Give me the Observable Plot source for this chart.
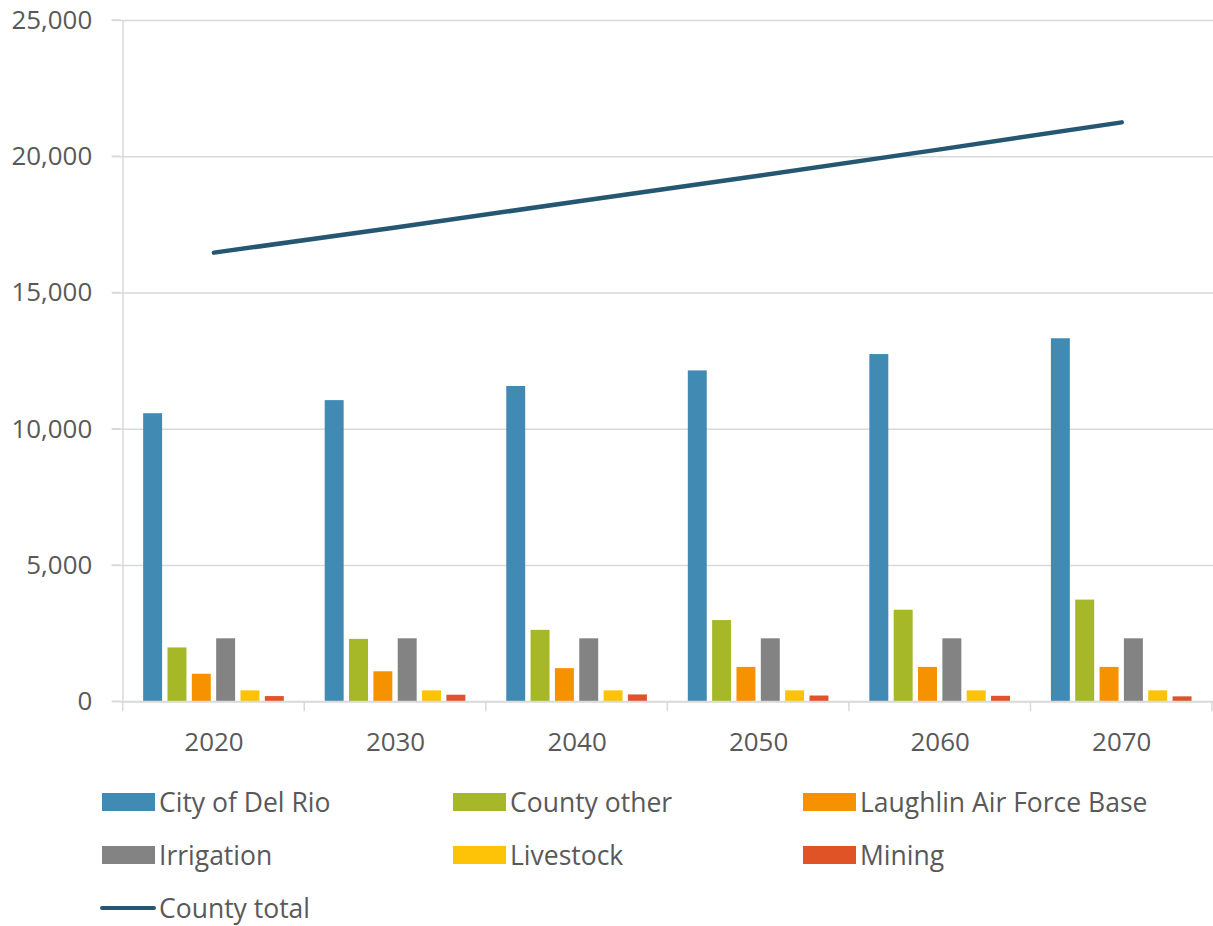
<!DOCTYPE html>
<html>
<head>
<meta charset="utf-8">
<script src="https://cdn.jsdelivr.net/npm/d3@7"></script>
<script src="https://cdn.jsdelivr.net/npm/@observablehq/plot@0.6"></script>
<style>
  html, body { margin: 0; padding: 0; background: #fff; overflow: hidden; }
  body { font-family: "Open Sans", "Noto Sans", sans-serif; color: #595959; width: 1213px; height: 926px; }
  #chart svg { display: block; }
  #legend { position: relative; height: 156px; }
  .item { position: absolute; display: flex; align-items: center; font-size: 26.5px; line-height: 36px; color: #595959; white-space: nowrap; }
  .sw { display: inline-block; width: 53px; height: 18px; margin-right: 4px; }
  .ln { display: inline-block; width: 56px; height: 4.5px; border-radius: 2px; margin-right: 3px; }
</style>
</head>
<body>
<div id="chart"></div>
<div id="legend"></div>
<script>
const years = ["2020", "2030", "2040", "2050", "2060", "2070"];
const seriesNames = ["City of Del Rio", "County other", "Laughlin Air Force Base", "Irrigation", "Livestock", "Mining"];
const cityOfDelRio = [10570, 11050, 11570, 12140, 12740, 13320];
const countyOther = [1975, 2290, 2620, 2980, 3360, 3730];
const laughlinAFB = [1010, 1100, 1215, 1260, 1260, 1260];
const irrigation = [2310, 2310, 2310, 2310, 2310, 2310];
const livestock = [400, 400, 400, 400, 400, 400];
const mining = [190, 240, 250, 210, 200, 180];
const countyTotal = [16480, 17400, 18360, 19300, 20270, 21260];
const lineName = "County total";
const yTicks = [0, 5000, 10000, 15000, 20000, 25000];

const colors = ["#418ab3", "#a6b727", "#f69200", "#838383", "#fec306", "#df5327"];
const lineColor = "#265772";
const seriesValues = [cityOfDelRio, countyOther, laughlinAFB, irrigation, livestock, mining];

const barRows = seriesValues.map((vals, i) => years.map((y, j) => ({year: y, series: seriesNames[i], value: vals[j]})));
const lineRows = years.map((y, j) => ({year: y, value: countyTotal[j]}));

const W = 1216, mL = 121, mR = 0;
const bandW = (W - mL - mR) / years.length;
const groupPad = 20.5, step = 24.4, barW = 19.5;

const barMarks = barRows.map((rows, i) => Plot.barY(rows, {
  x: "year", y: "value", fill: colors[i],
  insetLeft: groupPad + step * i,
  insetRight: bandW - (groupPad + step * i + barW)
}));

const plot = Plot.plot({
  width: W,
  height: 770,
  marginTop: 20,
  marginBottom: 67,
  marginLeft: mL,
  marginRight: mR,
  style: {fontFamily: "'Open Sans', 'Noto Sans', sans-serif", fontSize: "26px", color: "#595959", background: "white"},
  x: {type: "band", domain: years, padding: 0, label: null},
  y: {domain: [0, 25000], ticks: yTicks, label: null},
  marks: [
    Plot.gridY(yTicks.filter(d => d > 0), {stroke: "#d9d9d9", strokeOpacity: 1, strokeWidth: 1.5}),
    Plot.axisY({ticks: yTicks, tickFormat: d3.format(","), tickSize: 9, tickPadding: 20, stroke: "#d9d9d9", strokeWidth: 1.5, fill: "#595959", fontSize: 26}),
    Plot.ruleX([0], {x: () => years[0], stroke: "#d9d9d9", strokeWidth: 1.5, y1: 0, y2: 25000, dx: -bandW / 2}),
    ...barMarks,
    Plot.ruleY([0], {stroke: "#d9d9d9", strokeWidth: 2}),
    Plot.axisX({tickSize: 0, tickPadding: 31, fill: "#595959", fontSize: 26}),
    Plot.line(lineRows, {x: "year", y: "value", stroke: lineColor, strokeWidth: 4.5, strokeLinecap: "round"})
  ]
});
document.getElementById("chart").appendChild(plot);

// category boundary ticks on the x axis (drawn with the x scale's band edges)
const xs = plot.scale("x");
const ys = plot.scale("y");
const svg = d3.select(plot);
const edges = years.map(y => xs.apply(y)).concat([xs.apply(years[years.length - 1]) + xs.bandwidth]);
svg.append("g").selectAll("line").data(edges).join("line")
  .attr("x1", d => d).attr("x2", d => d)
  .attr("y1", ys.apply(0)).attr("y2", ys.apply(0) + 10)
  .attr("stroke", "#d9d9d9").attr("stroke-width", 1.5);
// left tick stubs extending grid lines
svg.append("g").selectAll("line").data(yTicks).join("line")
  .attr("x1", mL - 9).attr("x2", mL)
  .attr("y1", d => ys.apply(d)).attr("y2", d => ys.apply(d))
  .attr("stroke", "#d9d9d9").attr("stroke-width", 1.5);

// legend
const legend = document.getElementById("legend");
const colX = [102, 453, 803];
const rowY = [16, 69, 122];
seriesNames.forEach((name, i) => {
  const el = document.createElement("div");
  el.className = "item";
  el.style.left = colX[i % 3] + "px";
  el.style.top = rowY[Math.floor(i / 3)] + "px";
  el.innerHTML = `<span class="sw" style="background:${colors[i]}"></span><span>${name}</span>`;
  legend.appendChild(el);
});
const le = document.createElement("div");
le.className = "item";
le.style.left = "100px";
le.style.top = rowY[2] + "px";
le.innerHTML = `<span class="ln" style="background:${lineColor}"></span><span>${lineName}</span>`;
legend.appendChild(le);
</script>
</body>
</html>
